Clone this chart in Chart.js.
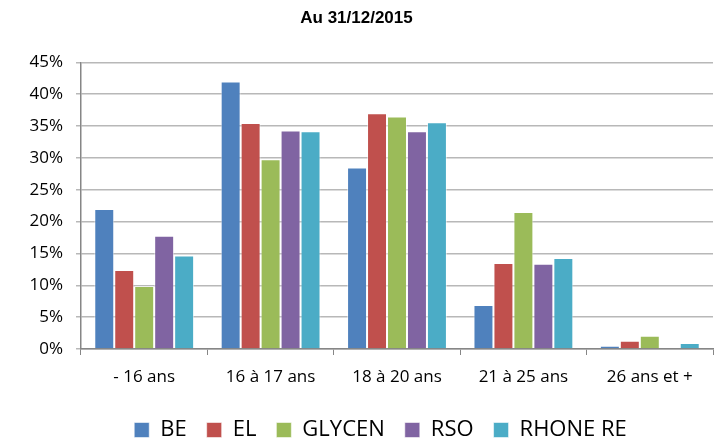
<!DOCTYPE html>
<html>
<head>
<meta charset="utf-8">
<script src="https://cdn.jsdelivr.net/npm/chart.js@4/dist/chart.umd.min.js"></script>
<style>
  html, body { margin: 0; padding: 0; background: #fff; }
  #wrap { width: 724px; height: 440px; }
</style>
</head>
<body>
<div id="wrap"><canvas id="ageChart" width="724" height="440"></canvas></div>
<script>
const categories = ["- 16 ans", "16 à 17 ans", "18 à 20 ans", "21 à 25 ans", "26 ans et +"];
const be = [22, 42, 28.5, 6.9, 0.5];
const el = [12.4, 35.5, 37, 13.5, 1.3];
const glycen = [9.9, 29.8, 36.5, 21.5, 2.1];
const rso = [17.8, 34.3, 34.2, 13.4, 0.1];
const rhoneRe = [14.7, 34.2, 35.6, 14.3, 0.95];

const ctx = document.getElementById("ageChart").getContext("2d");

function serie(label, data, color) {
  return {
    label,
    data,
    backgroundColor: color,
    borderColor: "rgba(255,255,255,0.55)",
    borderWidth: 1,
    categoryPercentage: 0.79,
    barPercentage: 1
  };
}

// la légende est décalée vers la droite comme dans l'original
const decalLegende = {
  id: "decalLegende",
  afterLayout(chart) {
    chart.legend.left += 24;
    chart.legend.right += 24;
  }
};

new Chart(ctx, {
  type: "bar",
  data: {
    labels: categories,
    datasets: [
      serie("BE", be, "#4F81BD"),
      serie("EL", el, "#C0504D"),
      serie("GLYCEN", glycen, "#9BBB59"),
      serie("RSO", rso, "#8064A2"),
      serie("RHONE RE", rhoneRe, "#4BACC6")
    ]
  },
  plugins: [decalLegende],
  options: {
    responsive: false,
    animation: false,
    layout: { padding: { left: 0, right: 11, top: 0, bottom: -11 } },
    plugins: {
      title: {
        display: true,
        text: "Au 31/12/2015",
        color: "#000",
        font: { family: "Liberation Sans", size: 17, weight: "bold" },
        padding: { top: 8, bottom: 34 }
      },
      legend: {
        position: "bottom",
        labels: {
          color: "#000",
          boxWidth: 15,
          boxHeight: 15,
          padding: 20,
          font: { family: "Open Sans", size: 22 }
        }
      },
      tooltip: { enabled: false }
    },
    scales: {
      x: {
        afterFit: (s) => { s.height = 50; },
        grid: {
          offset: true,
          drawOnChartArea: false,
          color: "#868686",
          tickLength: 6
        },
        border: { color: "#868686", width: 1.5 },
        ticks: { color: "#000", font: { family: "Open Sans", size: 17 }, padding: 12 }
      },
      y: {
        min: 0,
        max: 45,
        afterFit: (s) => { s.width = 81; },
        grid: { color: "#b8b8b8", lineWidth: 1.5, tickLength: 5 },
        border: { color: "#868686", width: 1.5 },
        ticks: {
          stepSize: 5,
          color: "#000",
          font: { family: "Open Sans", size: 17 },
          padding: 13,
          callback: (v) => v + "%"
        }
      }
    }
  }
});
</script>
</body>
</html>
